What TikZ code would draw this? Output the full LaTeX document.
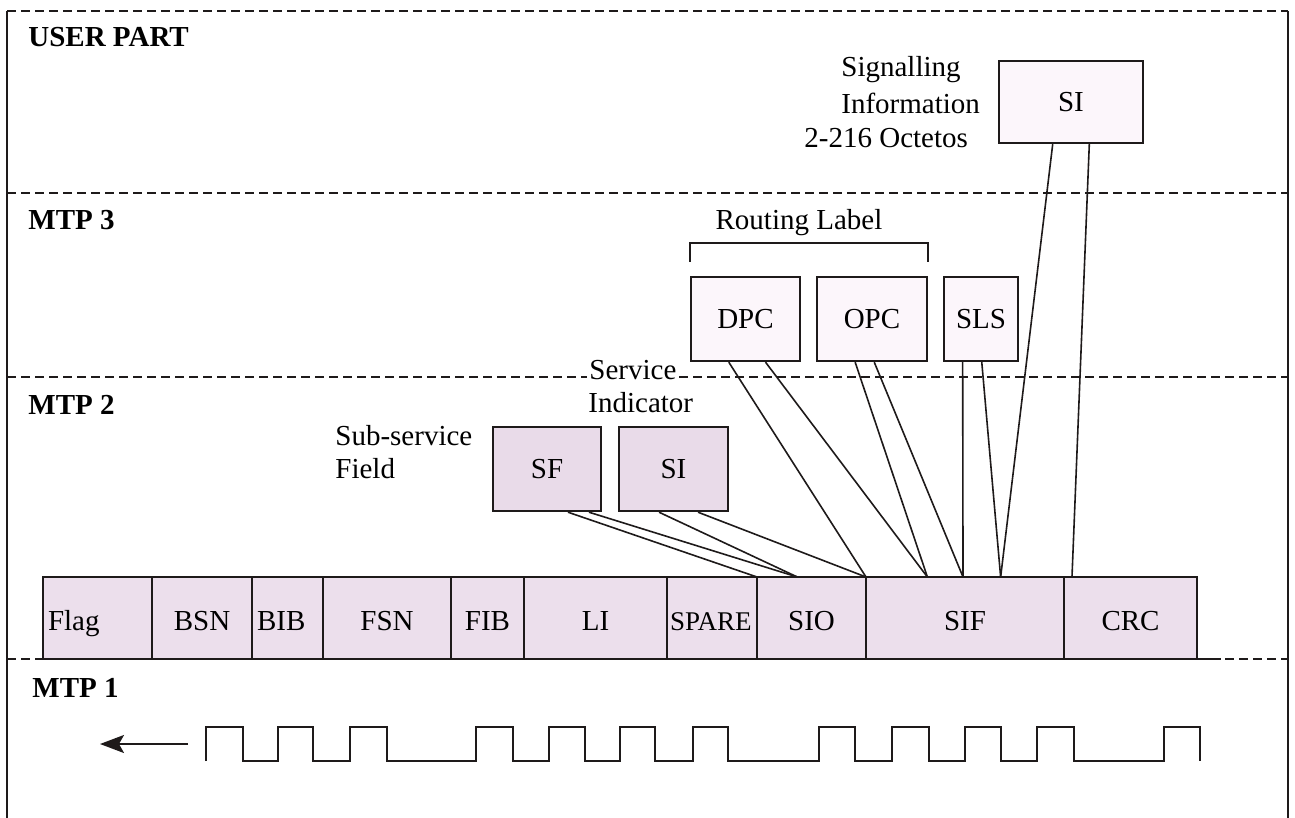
\documentclass[tikz,border=0pt]{standalone}
\usepackage{fontspec}
\setmainfont{Liberation Serif}
\usepackage{tikz}
\usetikzlibrary{positioning, calc, arrows.meta}

\definecolor{cellpink}{RGB}{236,223,236}
\definecolor{sfpink}{RGB}{233,219,233}
\definecolor{boxtint}{RGB}{252,246,251}
\definecolor{inkline}{RGB}{30,26,26}

\newcommand{\figfont}{\fontsize{14.5pt}{16.5pt}\selectfont}

\tikzset{
    layerline/.style={inkline, line width=1pt, dash pattern=on 4.5pt off 2.5pt},
    border/.style={inkline, line width=1.2pt},
    cell/.style={draw=inkline, line width=1.1pt, fill=cellpink, minimum height=41pt,
        inner sep=0pt, outer sep=0pt, anchor=west, text height=12pt, text depth=0pt},
    cellleft/.style={cell, align=left, inner xsep=2.5pt, text width=#1},
    fieldbox/.style={draw=inkline, line width=1.2pt, fill=boxtint, inner sep=0pt},
    layername/.style={font=\figfont\bfseries, anchor=west, inner sep=0pt},
    plaintext/.style={anchor=west, inner sep=0pt},
    wire/.style={inkline, line width=0.8pt}
}

\begin{document}
\begin{tikzpicture}[x=0.5pt, y=-0.5pt, font=\figfont]
    \useasboundingbox (0,0) rectangle (1295,818);

    % Layer borders
    \draw[border] (7,818) -- (7,11);
    \draw[border] (1288,11) -- (1288,818);
    \draw[layerline] (7,11) -- (1288,11);
    \draw[layerline] (7,193) -- (1288,193);
    \draw[layerline] (7,377) -- (1288,377);
    \draw[layerline] (7,659) -- (1288,659);

    \node[layername] (user) at (28,37) {USER PART};
    \node[layername] (mtp3) at (28,220) {MTP 3};
    \node[layername] (mtp2) at (28,405) {MTP 2};
    \node[layername] (mtp1) at (32,688) {MTP 1};

    % Signal unit
    \node[cellleft=49.5pt] (flag) at (43,618) {Flag};
    \node[cell, minimum width=50pt, right=0pt of flag] (bsn) {BSN};
    \node[cellleft=30.5pt, right=0pt of bsn] (bib) {BIB};
    \node[cell, minimum width=64pt, right=0pt of bib] (fsn) {FSN};
    \node[cell, minimum width=36.5pt, right=0pt of fsn] (fib) {FIB};
    \node[cell, minimum width=71.5pt, right=0pt of fib] (li) {LI};
    \node[cellleft=42pt, inner xsep=1.5pt, font=\fontsize{13.5pt}{15pt}\selectfont, right=0pt of li] (spare) {SPARE};
    \node[cell, minimum width=54.5pt, right=0pt of spare] (sio) {SIO};
    \node[cell, minimum width=99pt, right=0pt of sio] (sif) {SIF};
    \node[cell, minimum width=66.5pt, right=0pt of sif] (crc) {CRC};
    \coordinate (frameend) at (1221,659);
    \draw[inkline, line width=1.1pt] (crc.south east) -- (frameend);

    % Service information octet
    \node[fieldbox, fill=sfpink, minimum width=54pt, minimum height=42pt] (sf) at (547,469) {SF};
    \node[fieldbox, fill=sfpink, minimum width=54.5pt, minimum height=42pt] (si) at (673.5,469) {SI};
    \node[plaintext, align=left] (subfield) at (335,452) {Sub-service\\Field};
    \node[plaintext, fill=white, inner sep=1pt] (servA) at (587,370) {Service};
    \node[plaintext] (servB) at (588,403) {Indicator};

    % Routing label
    \node[fieldbox, minimum width=54.5pt, minimum height=42pt] (dpc) at (745.5,319) {DPC};
    \node[fieldbox, minimum width=55pt, minimum height=42pt] (opc) at (872,319) {OPC};
    \node[fieldbox, minimum width=37pt, minimum height=42pt] (sls) at (981,319) {SLS};
    \draw[inkline, line width=1pt] ([yshift=7pt]dpc.north west) -- ([yshift=16.5pt]dpc.north west)
        -| ([yshift=7pt]opc.north east);
    \node (rlabel) at (799,223) {Routing Label};

    % Signalling information
    \node[fieldbox, minimum width=72pt, minimum height=41pt] (siu) at (1071,102) {SI};
    \node[plaintext] (sigA) at (841,70) {Signalling};
    \node[plaintext] (sigB) at (841,103) {Information};
    \node[plaintext] (sigC) at (804,138) {2-216 Octetos};

    % Fields down to the signal unit
    \draw[wire] ($(sf.south west)!0.69!(sf.south east)$) -- (sio.north west);
    \draw[wire] ($(sf.south west)!0.88!(sf.south east)$) -- ($(sio.north west)!0.37!(sio.north east)$);
    \draw[wire] ($(si.south west)!0.37!(si.south east)$) -- ($(sio.north west)!0.37!(sio.north east)$);
    \draw[wire] ($(si.south west)!0.72!(si.south east)$) -- (sif.north west);
    \draw[wire] ($(dpc.south west)!0.35!(dpc.south east)$) -- (sif.north west);
    \draw[wire] ($(dpc.south west)!0.68!(dpc.south east)$) -- ($(sif.north west)!0.31!(sif.north east)$);
    \draw[wire] ($(opc.south west)!0.35!(opc.south east)$) -- ($(sif.north west)!0.31!(sif.north east)$);
    \draw[wire] ($(opc.south west)!0.52!(opc.south east)$) -- ($(sif.north west)!0.49!(sif.north east)$);
    \draw[wire] ($(sls.south west)!0.26!(sls.south east)$) -- ($(sif.north west)!0.49!(sif.north east)$);
    \draw[wire] ($(sls.south west)!0.51!(sls.south east)$) -- ($(sif.north west)!0.68!(sif.north east)$);
    \draw[wire] ($(siu.south west)!0.375!(siu.south east)$) -- ($(sif.north west)!0.68!(sif.north east)$);
    \draw[wire] ($(siu.south west)!0.625!(siu.south east)$) -- ($(crc.north west)!0.06!(crc.north east)$);

    % Bit stream on the link
    \draw[inkline, line width=1pt] (206,761)
        \foreach \a/\b in {206/243, 278/313, 350/387, 476/513, 549/585, 620/655,
                           693/728, 819/855, 892/929, 965/1001, 1037/1074, 1164/1200}
        { -- (\a,761) -- (\a,727) -- (\b,727) -- (\b,761) };
    \coordinate (bitsend) at (188,744);
    \coordinate (bitsdir) at (100,744);
    \draw[inkline, line width=1pt, -{Stealth[length=12pt, width=9pt, inset=2.5pt]}] (bitsend) -- (bitsdir);
\end{tikzpicture}
\end{document}
